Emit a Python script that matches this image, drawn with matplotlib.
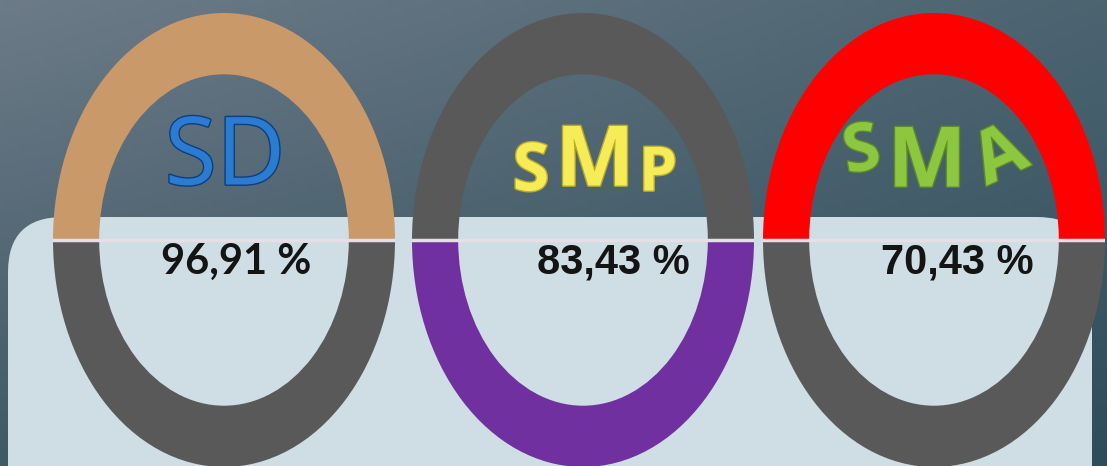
import numpy as np
import matplotlib.pyplot as plt
from matplotlib.patches import FancyBboxPatch
import matplotlib.patheffects as pe

# --- data ---
labels = ["SD", "SMP", "SMA"]
percents = [96.91, 83.43, 70.43]
halves = [1, 1]  # upper half / lower half of each ring
top_colors = ["#c9996a", "#595959", "#ff0000"]
bottom_colors = ["#595959", "#7030a0", "#595959"]

# --- layout (pixels) ---
W, H = 1107, 466
ring_cx = [224, 583, 934]
split_y = 240
ring_a, ring_b = 171, 227
panel_color = "#cfdde4"

fig = plt.figure(figsize=(W / 100, H / 100), dpi=100)
bg = fig.add_axes([0, 0, 1, 1])

# gradient background: corners tl, tr / bl, br
corners = np.array([[[0x6d, 0x7b, 0x88], [0x4b, 0x64, 0x70]],
                    [[0x3f, 0x59, 0x65], [0x2f, 0x4c, 0x5a]]]) / 255
X, Y = np.meshgrid(np.linspace(0, 1, 220), np.linspace(0, 1, 100))
X, Y = X[..., None], Y[..., None]
img = (corners[0, 0] * (1 - X) * (1 - Y) + corners[0, 1] * X * (1 - Y)
       + corners[1, 0] * (1 - X) * Y + corners[1, 1] * X * Y)
bg.imshow(img, extent=(0, W, H, 0), aspect="auto", zorder=0)

# light panel behind the lower halves
bg.add_patch(FancyBboxPatch((8, 217), 1084, 320,
                            boxstyle="round,pad=0,rounding_size=55",
                            fc=panel_color, ec="none", zorder=1))
bg.set_xlim(0, W)
bg.set_ylim(H, 0)
bg.axis("off")

# title pieces: (text, x, y, size, rotation)
title_layout = {
    "SD": dict(color="#2b7bd0", edge="#0b3f80", weight="normal",
               pieces=[("SD", 225, 160, 68, 0)]),
    "SMP": dict(color="#f5ec58", edge="#b9a92a", weight="bold",
                pieces=[("S", 531, 173, 48, 0), ("M", 595, 164, 60, 0),
                        ("P", 658, 175, 44, 0)]),
    "SMA": dict(color="#8dc63f", edge="#5d8a2a", weight="bold",
                pieces=[("S", 862, 153, 48, 10), ("M", 927, 165, 60, 0),
                        ("A", 1001, 158, 52, 25)]),
}
pct_fonts = ["Lato", "Liberation Sans", "Liberation Sans"]
pct_x = [236, 613, 957]

for i, lab in enumerate(labels):
    cx = ring_cx[i]
    ax = fig.add_axes([(cx - ring_a) / W, (H - (split_y + ring_b)) / H,
                       2 * ring_a / W, 2 * ring_b / H])
    ax.pie(halves, colors=[top_colors[i], bottom_colors[i]], startangle=0,
           counterclock=True, radius=1,
           wedgeprops=dict(width=0.27, edgecolor="none"))
    ax.set_aspect("auto")
    ax.set_xlim(-1, 1)
    ax.set_ylim(-1, 1)
    ax.axis("off")
    ax.axhline(0, color="#e6e0e6", lw=2.5, zorder=5)

    spec = title_layout[lab]
    for ch, x, y, size, rot in spec["pieces"]:
        ax.text(x, y, ch, transform=bg.transData, ha="center", va="center",
                rotation=rot, rotation_mode="anchor", fontsize=size,
                fontweight=spec["weight"], family="Open Sans",
                color=spec["color"], zorder=6,
                path_effects=[pe.withStroke(linewidth=2, foreground=spec["edge"])])

    txt = f"{percents[i]:.2f}".replace(".", ",") + " %"
    ax.text(pct_x[i], 262, txt, transform=bg.transData, ha="center",
            va="center", fontsize=30, fontweight="bold",
            family=pct_fonts[i], color="#141414", zorder=6)

fig.savefig("out.png", dpi=100)
